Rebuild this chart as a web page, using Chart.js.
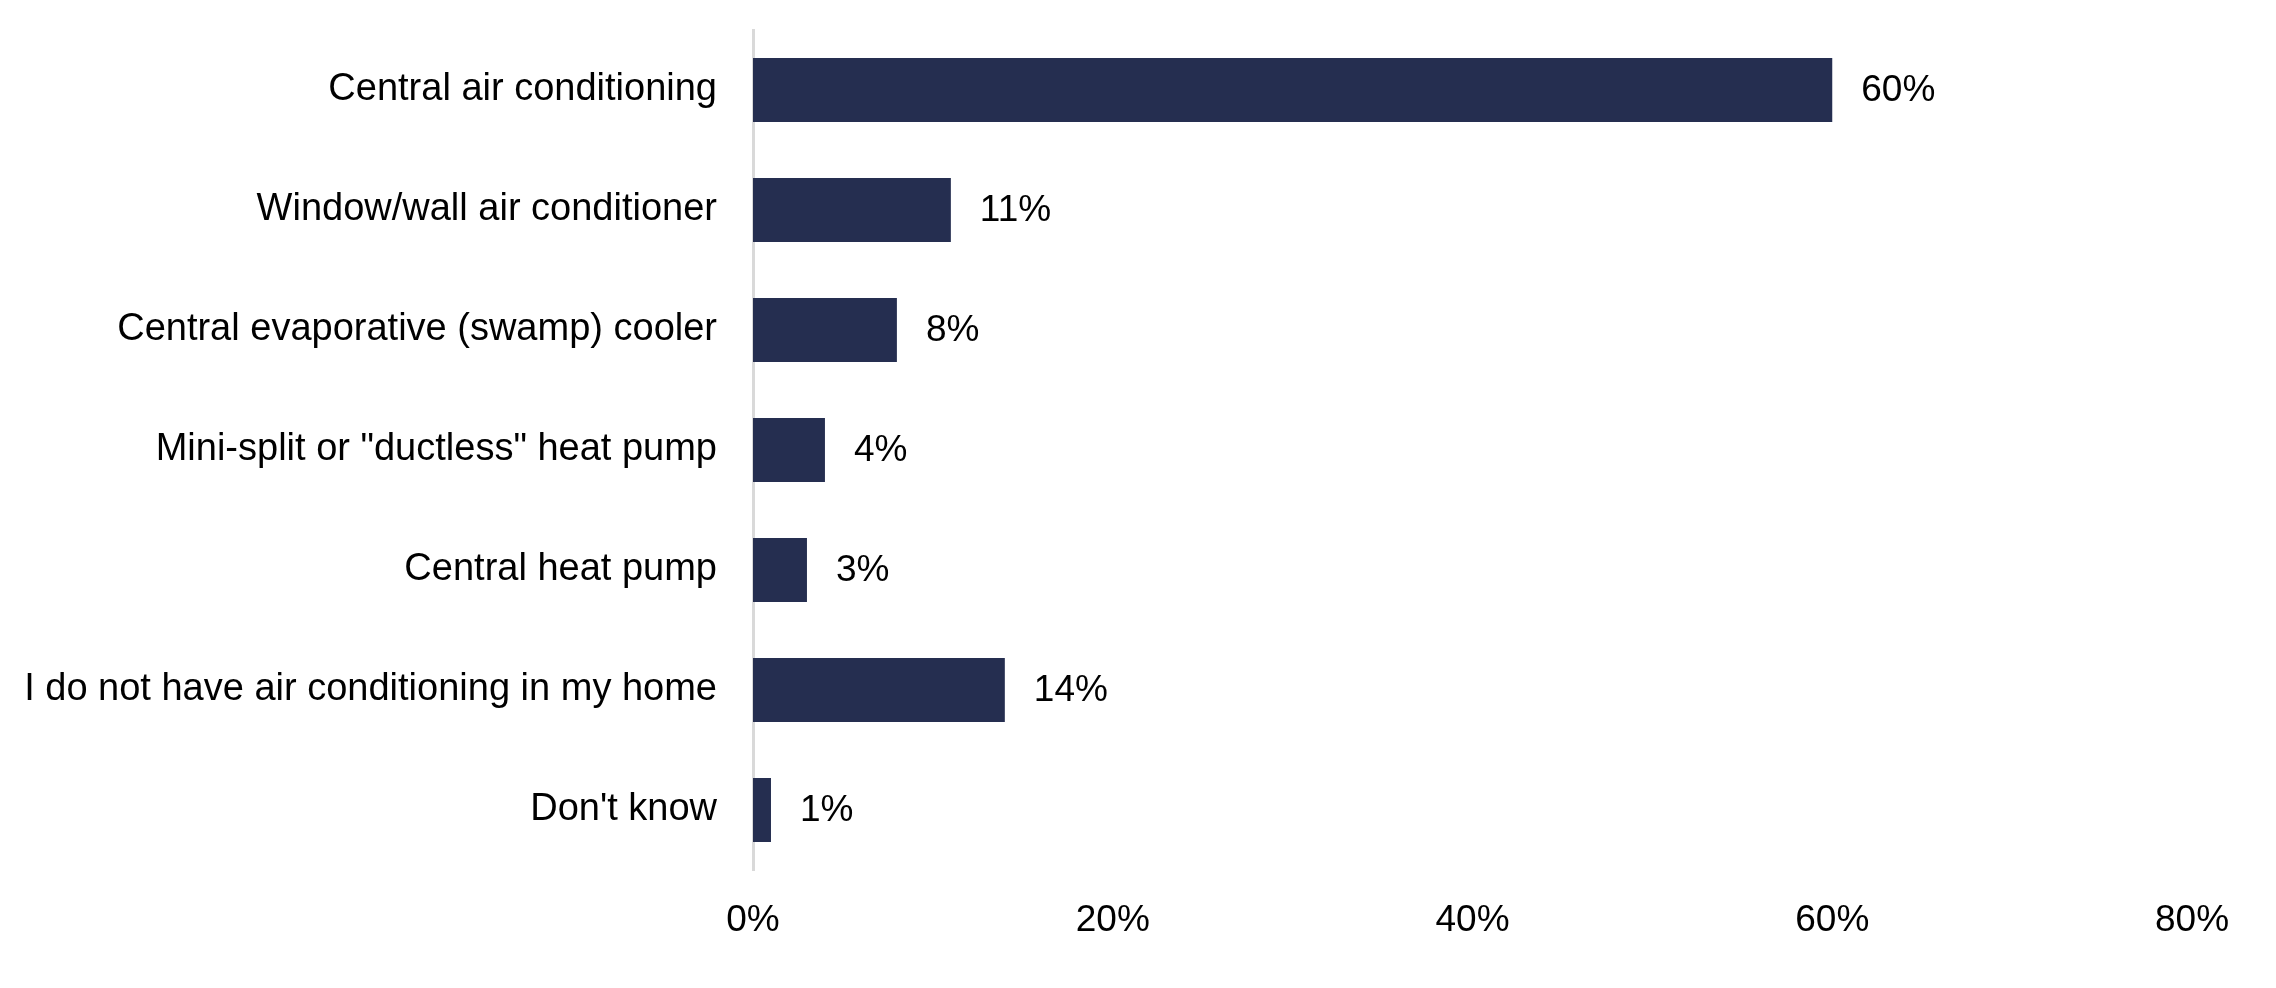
<!DOCTYPE html>
<html>
<head>
<meta charset="utf-8">
<title>Home cooling</title>
<script src="https://cdn.jsdelivr.net/npm/chart.js@4"></script>
<style>
  html, body { margin: 0; padding: 0; background: #fff; }
  #wrap { width: 2276px; height: 988px; }
</style>
</head>
<body>
<div id="wrap"><canvas id="chart" width="2276" height="988"></canvas></div>
<script>
// Cooling type shares
const CATEGORIES = [
  'Central air conditioning',
  'Window/wall air conditioner',
  'Central evaporative (swamp) cooler',
  'Mini-split or "ductless" heat pump',
  'Central heat pump',
  'I do not have air conditioning in my home',
  "Don't know"
];
const VALUES = [60, 11, 8, 4, 3, 14, 1];
const X_TICKS = [0, 20, 40, 60, 80];

const BAR_COLOR = '#252e50';
const FONT = '"Liberation Sans", Arial, sans-serif';

// Writes "NN%" just to the right of every bar
const valueLabels = {
  id: 'valueLabels',
  afterDatasetsDraw(chart) {
    const ctx = chart.ctx;
    const meta = chart.getDatasetMeta(0);
    ctx.save();
    ctx.font = '37px ' + FONT;
    ctx.fillStyle = '#000';
    ctx.textAlign = 'left';
    ctx.textBaseline = 'middle';
    meta.data.forEach((bar, i) => {
      ctx.fillText(VALUES[i] + '%', bar.x + 29, bar.y + 1);
    });
    ctx.restore();
  }
};

function init() {
  const ctx = document.getElementById('chart').getContext('2d');
  new Chart(ctx, {
    type: 'bar',
    data: {
      labels: CATEGORIES,
      datasets: [{
        data: VALUES,
        backgroundColor: BAR_COLOR,
        borderWidth: 0,
        categoryPercentage: 1,
        barPercentage: 0.535
      }]
    },
    options: {
      indexAxis: 'y',
      responsive: false,
      animation: false,
      layout: { padding: { top: 30, right: 84, bottom: 0, left: 0 } },
      plugins: {
        legend: { display: false },
        tooltip: { enabled: false }
      },
      scales: {
        x: {
          min: X_TICKS[0],
          max: X_TICKS[X_TICKS.length - 1],
          afterBuildTicks: s => { s.ticks = X_TICKS.map(v => ({ value: v })); },
          afterFit: s => { s.height = 118; },
          grid: { display: false, drawTicks: false },
          border: { display: false },
          ticks: {
            callback: v => v + '%',
            color: '#000',
            padding: 29,
            maxRotation: 0,
            font: { family: FONT, size: 37 }
          }
        },
        y: {
          afterFit: s => {
            s.width = 753;
            s.paddingTop = 0;
            s.paddingBottom = 0;
          },
          grid: { display: false, drawTicks: false },
          border: { display: true, color: '#d9d9d9', width: 3 },
          ticks: {
            color: '#000',
            padding: 36,
            font: { family: FONT, size: 38 }
          }
        }
      }
    },
    plugins: [valueLabels]
  });
}

document.addEventListener('DOMContentLoaded', init);
</script>
</body>
</html>
